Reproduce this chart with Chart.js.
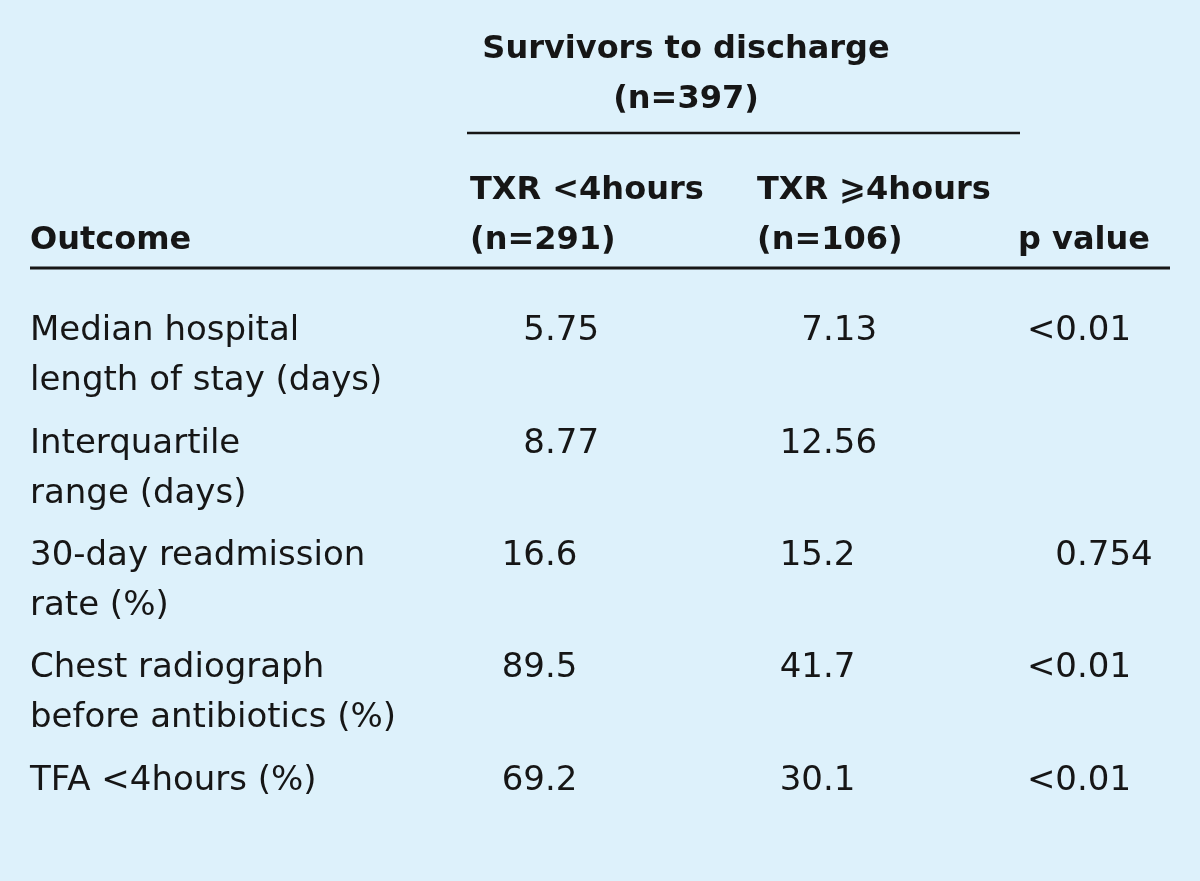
<!DOCTYPE html>
<html>
<head>
<meta charset="utf-8">
<script src="https://cdn.jsdelivr.net/npm/chart.js@4/dist/chart.umd.min.js"></script>
<style>
  html, body { margin: 0; padding: 0; background: #ddf1fb; }
  #wrap { width: 1200px; height: 881px; position: relative; }
</style>
</head>
<body>
<div id="wrap"><canvas id="tbl"></canvas></div>
<script>
// table content
const groupTitle = ["Survivors to discharge", "(n=397)"];
const colHeads = [["Outcome"], ["TXR <4hours", "(n=291)"], ["TXR \u2A7E4hours", "(n=106)"], ["p value"]];
const outcomes = [
    ["Median hospital", "length of stay (days)"],
    ["Interquartile", "range (days)"],
    ["30-day readmission", "rate (%)"],
    ["Chest radiograph", "before antibiotics (%)"],
    ["TFA <4hours (%)"]
];
const txrUnder4 = ["5.75", "8.77", "16.6", "89.5", "69.2"];
const txrOver4 = ["7.13", "12.56", "15.2", "41.7", "30.1"];
const pValues = ["<0.01", "", "0.754", "<0.01", "<0.01"];

// layout (x scale runs 0..1200 across the canvas)
const colX = [30, 545, 823, 1077];      // label left edge, then decimal points
const headX = [30, 470, 757, 1018];
const ink = "#161616";
const bodyFont = '34px "DejaVu Sans"';
const headFont = 'bold 32px "DejaVu Sans"';

const rowKeys = outcomes.map((o, i) => "r" + i);

function colData(col) {
    return rowKeys.map(k => ({ x: colX[col], y: k }));
}

const cellText = [outcomes, txrUnder4, txrOver4, pValues];

// draw a number lined up on its decimal point
function drawDecimal(ctx, s, x, y) {
    if (!s) return;
    let dot = s.indexOf(".");
    let head = dot < 0 ? s : s.slice(0, dot);
    let tail = dot < 0 ? "" : s.slice(dot);
    ctx.textAlign = "right";
    ctx.fillText(head, x, y);
    ctx.textAlign = "left";
    ctx.fillText(tail, x, y);
}

const tablePlugin = {
    id: "tableText",
    afterDatasetsDraw(chart) {
        const ctx = chart.ctx;
        const xs = chart.scales.x;
        const ys = chart.scales.y;
        ctx.save();
        ctx.fillStyle = ink;
        ctx.strokeStyle = ink;
        ctx.textBaseline = "alphabetic";

        // header block
        ctx.font = headFont;
        ctx.textAlign = "center";
        ctx.fillText(groupTitle[0], xs.getPixelForValue(686), 58);
        ctx.fillText(groupTitle[1], xs.getPixelForValue(686), 108);

        ctx.lineWidth = 2.5;
        ctx.beginPath();
        ctx.moveTo(xs.getPixelForValue(467), 133);
        ctx.lineTo(xs.getPixelForValue(1020), 133);
        ctx.stroke();

        ctx.textAlign = "left";
        colHeads.forEach((lines, c) => {
            let base = 249 - (lines.length - 1) * 50;
            lines.forEach((t, j) => ctx.fillText(t, xs.getPixelForValue(headX[c]), base + j * 50));
        });

        ctx.lineWidth = 3;
        ctx.beginPath();
        ctx.moveTo(xs.getPixelForValue(30), 268);
        ctx.lineTo(xs.getPixelForValue(1170), 268);
        ctx.stroke();

        // body cells, placed at each dataset point
        ctx.font = bodyFont;
        chart.data.datasets.forEach((ds, c) => {
            const meta = chart.getDatasetMeta(c);
            meta.data.forEach((pt, i) => {
                if (c === 0) {
                    ctx.textAlign = "left";
                    outcomes[i].forEach((t, j) => ctx.fillText(t, pt.x, pt.y + j * 50));
                } else {
                    drawDecimal(ctx, cellText[c][i], pt.x, pt.y);
                }
            });
        });
        ctx.restore();
    }
};

new Chart(document.getElementById("tbl"), {
    type: "scatter",
    data: {
        labels: rowKeys,
        datasets: [0, 1, 2, 3].map(c => ({
            label: "col" + c,
            data: colData(c),
            pointRadius: 0,
            pointHoverRadius: 0
        }))
    },
    options: {
        responsive: true,
        maintainAspectRatio: false,
        animation: false,
        layout: { padding: { left: 0, right: 0, top: 284, bottom: 35 } },
        plugins: {
            legend: { display: false },
            tooltip: { enabled: false },
            title: { display: false }
        },
        scales: {
            x: { type: "linear", min: 0, max: 1200, display: false },
            y: { type: "category", labels: rowKeys, offset: true, display: false }
        }
    },
    plugins: [tablePlugin]
});
</script>
</body>
</html>
